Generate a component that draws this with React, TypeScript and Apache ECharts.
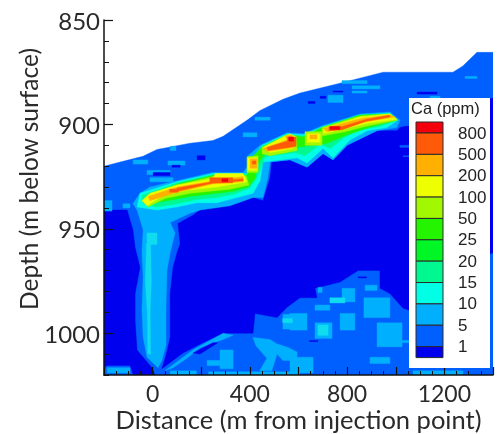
import React, { useEffect, useRef } from "react";
import * as echarts from "echarts";

type Pt = number[];
const xTickLabels = [0, 400, 800, 1200];
const yTickLabels = [850, 900, 950, 1000];
const legendLabels = ["800", "500", "200", "100", "50", "25", "20", "15", "10", "5", "1"];
const legendColors = ["#f4000c", "#ff5a08", "#ffb000", "#eeff00", "#a2f800", "#24f400", "#00f624", "#00f890", "#00ffe4", "#00b0ff", "#0060ff", "#0000ee"];

const cRed = "#f4000c", cOrange = "#ff5a08", cAmber = "#ffb000", cYellow = "#eeff00", cLime = "#a2f800", cGreen = "#24f400", cSpring = "#00f890", cCyan = "#00ffe4", cLight = "#00b0ff", cBase = "#0060ff", cDeep = "#0000ee";

// Polygons are in data units: [distance m, depth m]
const surface: Pt[] = [[-200, 920], [-122, 917.7], [-40, 915.3], [18, 912], [154, 909], [248, 907.7], [290, 905.7], [388, 898], [442, 893.3], [536, 888], [606, 885], [779, 880], [948, 875], [1235, 875], [1276, 872], [1334, 865.5], [1400, 865.5], [1400, 1020], [-200, 1020]];
const deepLeft: Pt[] = [[-200, 941], [-105, 941], [-81, 950.5], [-72, 959], [-52, 968.5], [-72, 981], [-72, 994], [-64, 1008], [-3, 1016.5], [10, 1020], [-80, 1020], [-93, 1015.5], [-187, 1015.5], [-200, 1016.5]];
const deepRight: Pt[] = [[104, 947.5], [113, 957], [100, 961.5], [84, 968.5], [72, 981], [72, 1002], [55, 1010.5], [38, 1017], [125, 1009.5], [207, 1004.5], [290, 1000], [413, 1000], [421, 990.5], [512, 992.5], [553, 987.5], [606, 983], [676, 983], [668, 978.5], [771, 975.5], [845, 970], [935, 970], [935, 978.5], [976, 981], [1030, 988], [1055, 989], [1141, 979.5], [1388, 962], [1400, 961.5], [1400, 887.5], [1388, 887.5], [1055, 900.5], [1017, 901.5], [1005, 903], [923, 903], [800, 910], [742, 917], [701, 914], [635, 920.5], [565, 917], [490, 918], [483, 925.5], [454, 936.5], [413, 935], [318, 939], [195, 941], [166, 943.5]];
const baseRects: number[][] = [[1017, 1055, 899.5, 900.5], [1017, 1055, 910, 911], [1030, 1055, 915, 915.5]];
const deepRects: number[][] = [[183, 216, 915, 917], [2, 72, 923, 924.5], [80, 113, 919.5, 920.5], [640, 668, 889, 890], [689, 713, 886.5, 887.5], [742, 783, 884, 884.5], [1088, 1170, 884.5, 885.5], [845, 880, 973, 973.5], [645, 680, 1003.5, 1004]];
const lightRects: number[][] = [[-80, -20, 917, 919], [63, 133, 917.5, 919.5], [-23, 72, 922, 924], [-11, 84, 925.5, 927.5], [72, 96, 910.5, 912.5], [372, 429, 904, 906], [421, 483, 896.5, 898], [779, 882, 879, 880.5], [820, 935, 881.5, 883], [820, 882, 884, 885], [721, 783, 886, 889.5], [1285, 1334, 877, 878], [1141, 1182, 886.5, 887.5], [-200, -167, 936.5, 941.5], [-122, -93, 938, 940], [277, 331, 1008, 1017], [224, 285, 1013, 1015.5], [565, 635, 990.5, 998.5], [668, 738, 995, 1002.5], [771, 832, 990.5, 998.5], [869, 976, 983, 992.5], [923, 1026, 995, 1006.5], [1026, 1055, 1003.5, 1004.5], [668, 729, 986.5, 989], [874, 923, 977, 979.5], [680, 697, 978, 980.5], [779, 832, 978.5, 985], [894, 976, 1011.5, 1014.5], [565, 660, 1011.5, 1019], [-187, -93, 1016.5, 1019], [1071, 1276, 1018, 1020], [72, 180, 1018, 1020], [230, 606, 1018.5, 1020], [536, 594, 991, 998]];
const cyanRects: number[][] = [[680, 722, 996, 1001], [729, 791, 983, 985.5], [535, 575, 993, 995], [-23, 18, 952, 957.5]];
const cyanStrokeCore: Pt[] = [[-25, 957], [-8, 957], [-5, 975], [-10, 990], [-8, 1010], [-20, 1010], [-22, 990], [-30, 975]];
const moundArc: Pt[] = [[166, 1008], [290, 1000], [331, 1001], [290, 1003], [195, 1007], [141, 1012], [84, 1016.5], [51, 1018]];
const moundBlock: Pt[] = [[413, 1002], [483, 1003], [510, 1005], [560, 1007], [594, 1009], [594, 1013], [536, 1013], [512, 1010], [490, 1018], [440, 1018], [470, 1012], [425, 1006]];
const moundDeep: Pt[] = [[166, 1009.5], [248, 1004.5], [268, 1004.5], [195, 1010]];

const lightMain: Pt[] = [[22, 1016.5], [-23, 1011.5], [-39, 1002], [-44, 989], [-39, 973], [-44, 961.5], [-39, 950.5], [-64, 941], [-81, 938], [-52, 933], [-11, 930], [100, 927], [248, 923], [372, 923], [401, 918.5], [392, 915], [442, 910], [553, 904], [619, 904.5], [701, 900.5], [853, 895], [976, 894], [1017, 898], [1005, 901.5], [923, 903], [800, 910], [742, 917], [701, 914], [635, 920.5], [565, 917], [483, 918], [474, 925.5], [454, 935], [413, 935], [318, 939], [195, 941], [154, 942.5], [72, 947], [92, 952], [72, 961.5], [59, 970], [55, 987.5], [55, 1005.5], [38, 1013]];
const cyanMain: Pt[] = [[-52, 933], [100, 927.5], [248, 923.5], [388, 923.5], [413, 916.5], [450, 910], [553, 904.5], [619, 905], [701, 901], [853, 895.5], [976, 894.5], [1009, 898], [964, 901.5], [882, 903], [812, 907.5], [742, 916], [701, 911.5], [635, 918.5], [594, 916], [565, 916.5], [454, 918], [442, 927], [413, 933], [331, 935.5], [265, 937.5], [183, 937.5], [100, 939.5], [18, 941], [-64, 939.5]];
const springMain: Pt[] = [[-44, 934], [100, 928], [248, 924], [388, 924], [409, 916.5], [450, 910.5], [553, 905], [619, 905.5], [701, 901], [853, 895.5], [976, 895], [1005, 898], [935, 901], [853, 902.5], [792, 906], [730, 911.5], [689, 909.5], [627, 915], [586, 913.5], [462, 915.5], [433, 924.5], [401, 930.5], [331, 933.5], [265, 935], [183, 936], [100, 938], [18, 939.5], [-39, 938]];
const greenMain: Pt[] = [[-31, 935], [104, 928.5], [248, 924.5], [388, 924.5], [401, 916.5], [450, 911], [553, 905], [619, 906], [701, 901.5], [853, 895.5], [976, 895], [1001, 898], [902, 901], [800, 905], [717, 909], [647, 910], [594, 911], [462, 914], [429, 919.5], [421, 926], [392, 930], [331, 932], [265, 933], [154, 934.5], [59, 936.5], [-23, 938]];
const limeA: Pt[] = [[-27, 935.5], [104, 929], [248, 925], [384, 924.5], [396, 929], [318, 931], [154, 933], [51, 935.5], [-19, 939.5]];
const limeB: Pt[] = [[450, 911], [545, 905.5], [590, 905.5], [594, 912.5], [483, 915], [450, 914]];
const limeC: Pt[] = [[388, 915.5], [434, 915], [434, 923], [388, 923]];
const limeD: Pt[] = [[627, 903.5], [697, 903.5], [697, 910], [627, 910]];
const limeE: Pt[] = [[697, 901.5], [853, 896], [976, 895], [1005, 898], [873, 901], [792, 903.5], [697, 905.5]];
const yellowA: Pt[] = [[-11, 933], [100, 929], [248, 926], [257, 923.5], [372, 923.5], [388, 927.5], [265, 930], [141, 931.5], [43, 934], [-23, 939], [-44, 936.5]];
const yellowB: Pt[] = [[454, 911], [536, 906], [565, 904.5], [590, 906], [577, 911.5], [483, 913.5]];
const yellowC: Pt[] = [[392, 916], [429, 916], [429, 922], [392, 922]];
const yellowD: Pt[] = [[635, 904.5], [689, 904.5], [689, 908.5], [635, 908.5]];
const yellowE: Pt[] = [[701, 902], [853, 896.5], [976, 895], [1005, 897.5], [882, 899.5], [701, 904.5]];
const amberA: Pt[] = [[-19, 934.5], [100, 930], [248, 927], [372, 925], [372, 927.5], [248, 928.5], [100, 932.5], [-11, 936.5]];
const amberB: Pt[] = [[454, 911.5], [553, 907.5], [545, 905.5], [573, 905], [581, 911], [470, 913]];
const amberC: Pt[] = [[401, 916.5], [429, 916.5], [429, 921], [401, 921]];
const amberD: Pt[] = [[647, 905], [676, 905], [676, 907], [647, 907]];
const amberE: Pt[] = [[701, 902], [861, 897], [976, 895.5], [997, 896.5], [861, 899], [783, 902], [717, 903.5]];
const orangeA: Pt[] = [[100, 930.5], [248, 927.5], [372, 926], [372, 927], [248, 928], [100, 932]];
const orangeA2: Pt[] = [[235, 925.5], [330, 925.5], [330, 928], [235, 928]];
const orangeA3: Pt[] = [[70, 931], [105, 931], [105, 932.5], [70, 932.5]];
const orangeB: Pt[] = [[470, 911], [555, 908], [555, 906], [590, 906], [590, 910.5], [475, 912.5]];
const orangeC: Pt[] = [[410, 917.5], [425, 917.5], [425, 919], [410, 919]];
const orangeE: Pt[] = [[725, 901], [780, 901], [880, 897.5], [975, 895.5], [975, 896.5], [880, 898.5], [780, 902.5], [725, 903]];
const redA: Pt[] = [[285, 926], [310, 926], [310, 927.5], [285, 927.5]];
const redB: Pt[] = [[560, 906], [580, 906], [580, 908], [560, 908]];
const redE: Pt[] = [[730, 901], [770, 901], [770, 902.5], [730, 902.5]];

const rectPoly = (r: number[]): Pt[] => [[r[0], r[2]], [r[1], r[2]], [r[1], r[3]], [r[0], r[3]]];

const layers: { poly: Pt[]; color: string }[] = [
  { poly: surface, color: cBase },
  { poly: deepLeft, color: cDeep },
  { poly: deepRight, color: cDeep },
  ...baseRects.map((r) => ({ poly: rectPoly(r), color: cBase })),
  ...lightRects.map((r) => ({ poly: rectPoly(r), color: cLight })),
  { poly: moundArc, color: cLight },
  { poly: moundBlock, color: cLight },
  ...deepRects.map((r) => ({ poly: rectPoly(r), color: cDeep })),
  { poly: moundDeep, color: cDeep },
  { poly: lightMain, color: cLight },
  ...cyanRects.map((r) => ({ poly: rectPoly(r), color: "#10dcf0" })),
  { poly: cyanStrokeCore, color: "#10dcf0" },
  { poly: cyanMain, color: cCyan },
  { poly: springMain, color: cSpring },
  { poly: greenMain, color: cGreen },
  ...[limeA, limeB, limeC, limeD, limeE].map((poly) => ({ poly, color: cLime })),
  ...[yellowA, yellowB, yellowC, yellowD, yellowE].map((poly) => ({ poly, color: cYellow })),
  ...[amberA, amberB, amberC, amberD, amberE].map((poly) => ({ poly, color: cAmber })),
  ...[orangeA, orangeA2, orangeA3, orangeB, orangeC, orangeE].map((poly) => ({ poly, color: cOrange })),
  ...[redA, redB, redE].map((poly) => ({ poly, color: cRed })),
];

const W = 500, H = 434;
const textColor = "#2a2a2a";
const axisFont = "Lato";

export default function App() {
  const ref = useRef<HTMLDivElement>(null);
  useEffect(() => {
    const chart = echarts.init(ref.current!, undefined, { renderer: "svg", width: W, height: H });
    const swatchTop = 122, swatchFull = 21.36, swatchEnd = 11, swatchX = 416, swatchW = 27;
    const swatches: any[] = [];
    let y = swatchTop;
    legendColors.forEach((c, i) => {
      const h = i === 0 || i === legendColors.length - 1 ? swatchEnd : swatchFull;
      swatches.push({ type: "rect", shape: { x: swatchX, y, width: swatchW, height: h }, style: { fill: c, stroke: "#2b2b2b", lineWidth: 1 }, z: 20 });
      y += h;
      if (i < legendLabels.length) {
        swatches.push({ type: "text", x: 458, y, style: { text: legendLabels[i], font: "17px 'Liberation Sans'", fill: "#222", textVerticalAlign: "middle", textAlign: "left" }, z: 20 });
      }
    });
    chart.setOption({
      animation: false,
      backgroundColor: "#fff",
      grid: { left: 104, top: 20, width: 389, height: 355, outerBoundsMode: "none" },
      xAxis: [{
        type: "value", min: -200, max: 1400, interval: 200, z: 6,
        axisLine: { show: true, onZero: false, lineStyle: { color: "#111", width: 1.5 } },
        axisTick: { show: true, inside: true, length: 8, lineStyle: { color: "#111", width: 1.2 } },
        minorTick: { show: true, splitNumber: 4, length: 4, lineStyle: { color: "#111", width: 1 } },
        splitLine: { show: false },
        axisLabel: { customValues: xTickLabels, margin: 6, fontFamily: axisFont, fontSize: 23, color: textColor, formatter: (v: number) => String(v) },
        name: "Distance (m from injection point)", nameLocation: "middle", nameGap: 31, nameMoveOverlap: false,
        nameTextStyle: { fontFamily: axisFont, fontSize: 25.5, color: textColor },
      }],
      yAxis: [{
        type: "value", inverse: true, min: 850, max: 1020, interval: 10, z: 6,
        axisLine: { show: true, onZero: false, lineStyle: { color: "#111", width: 1.5 } },
        axisTick: { show: true, inside: true, length: 5, lineStyle: { color: "#111", width: 1 } },
        axisLabel: { show: false },
        splitLine: { show: false },
      }, {
        type: "value", inverse: true, min: 850, max: 1020, interval: 50, position: "left", z: 6,
        axisLine: { show: false, onZero: false },
        axisTick: { show: true, inside: true, length: 9, customValues: yTickLabels, lineStyle: { color: "#111", width: 1.2 } },
        axisLabel: { customValues: yTickLabels, margin: 4, fontFamily: axisFont, fontSize: 24, color: textColor, formatter: (v: number) => String(v) },
        splitLine: { show: false },
      }],
      series: [{
        type: "custom",
        coordinateSystem: "cartesian2d",
        silent: true,
        clip: true,
        encode: { x: 1, y: 2 },
        data: layers.map((_, i) => [i, -200, 850]),
        renderItem: (_p: any, api: any) => {
          const l = layers[api.value(0)];
          return {
            type: "polygon",
            shape: { points: l.poly.map((q) => api.coord(q)) },
            style: { fill: l.color, stroke: l.color, lineWidth: 0.4 },
          };
        },
      }],
      graphic: [
        { type: "rect", shape: { x: 409, y: 98, width: 81, height: 270 }, style: { fill: "#fff" }, z: 19 },
        { type: "text", x: 411, y: 108, style: { text: "Ca (ppm)", font: "16.5px 'Liberation Sans'", fill: "#222", textVerticalAlign: "middle" }, z: 20 },
        ...swatches,
        { type: "text", x: 28, y: 179, rotation: Math.PI / 2, style: { text: "Depth (m below surface)", font: `24.5px ${axisFont}`, fill: textColor, textAlign: "center", textVerticalAlign: "middle" }, z: 20 },
      ],
    });
    return () => chart.dispose();
  }, []);
  return <div ref={ref} style={{ position: "absolute", left: 0, top: 0, width: W, height: H, filter: "blur(0.6px)" }} />;
}
